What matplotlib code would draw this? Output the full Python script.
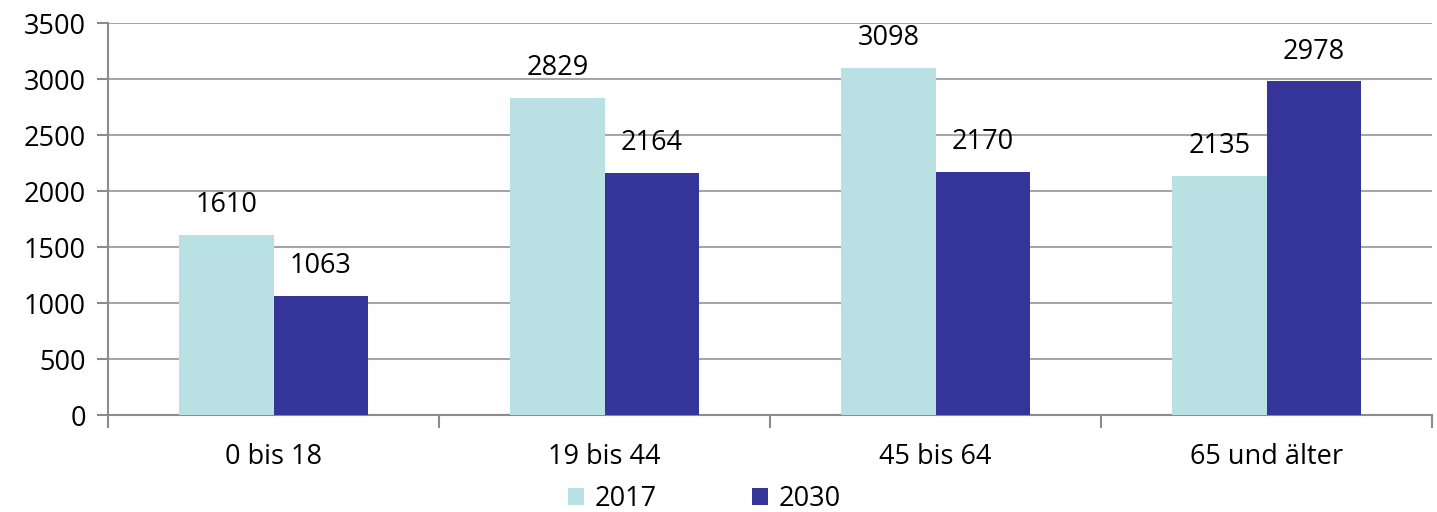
import matplotlib
matplotlib.use("Agg")
import matplotlib.pyplot as plt
import numpy as np

# Daten
kategorien = ["0 bis 18", "19 bis 44", "45 bis 64", "65 und älter"]
werte_2017 = [1610, 2829, 3098, 2135]
werte_2030 = [1063, 2164, 2170, 2978]
jahre = ["2017", "2030"]
farben = ["#b9e0e3", "#353499"]

plt.rcParams["font.family"] = ["Open Sans", "DejaVu Sans"]
fs = 19.5

fig = plt.figure(figsize=(14.37, 5.12), dpi=100)
ax = fig.add_axes([108 / 1437, 1 - 415 / 512, (1432 - 108) / 1437, (415 - 23) / 512])

x = np.arange(len(kategorien))
breite = 0.285
b1 = ax.bar(x - breite / 2, werte_2017, breite, color=farben[0], label=jahre[0], zorder=3)
b2 = ax.bar(x + breite / 2, werte_2030, breite, color=farben[1], label=jahre[1], zorder=3)

for bars, werte in [(b1, werte_2017), (b2, werte_2030)]:
    for b, v in zip(bars, werte):
        ax.text(b.get_x() + b.get_width() / 2, v + 140, str(v),
                ha="center", va="bottom", fontsize=fs, color="black")

ax.set_xlim(-0.5, len(kategorien) - 0.5)
ax.set_ylim(0, 3500)
ax.set_yticks(np.arange(0, 3501, 500))
ax.set_xticks(x)
ax.set_xticklabels(kategorien, fontsize=fs)
ax.set_xticks(np.arange(-0.5, len(kategorien), 1), minor=True)
ax.tick_params(axis="x", which="major", length=0, pad=20)
ax.tick_params(axis="x", which="minor", length=9, color="#8c8c8c", width=1.5)
ax.tick_params(axis="y", length=8, color="#8c8c8c", width=1.5, labelsize=fs, pad=8)

ax.grid(axis="y", color="#a6a6a6", linewidth=1.5, zorder=0)
for s in ["top", "right"]:
    ax.spines[s].set_visible(False)
for s in ["left", "bottom"]:
    ax.spines[s].set_color("#8c8c8c")
    ax.spines[s].set_linewidth(1.5)

fig.legend(handles=[b1, b2], labels=jahre, loc="lower center", bbox_to_anchor=(0.49, -0.05),
           ncol=2, frameon=False, fontsize=fs, handlelength=0.6, handleheight=0.6,
           columnspacing=3.5, handletextpad=0.4)

fig.savefig("out.png", dpi=100)
